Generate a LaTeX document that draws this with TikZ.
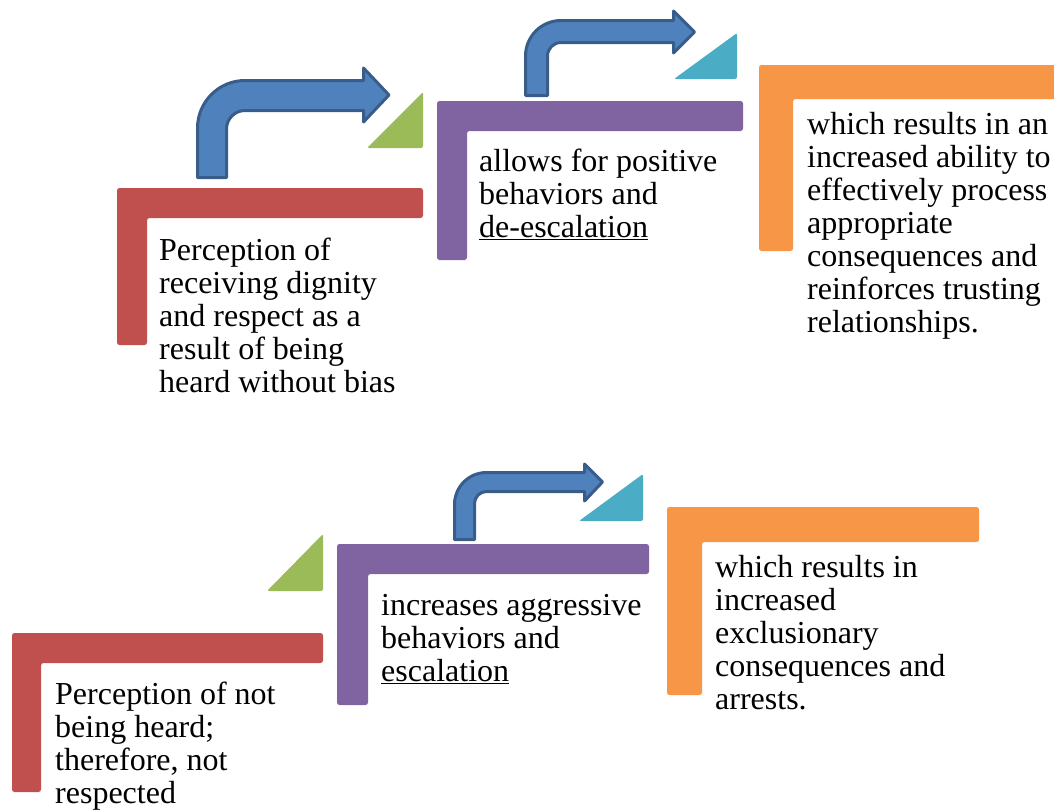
\documentclass[tikz,border=0pt]{standalone}
\usepackage{fontspec}
\setmainfont{Liberation Serif}
\definecolor{cRed}{HTML}{C0504D}
\definecolor{cPurple}{HTML}{8064A2}
\definecolor{cOrange}{HTML}{F79646}
\definecolor{cGreen}{HTML}{9BBB59}
\definecolor{cTeal}{HTML}{4BACC6}
\definecolor{cArrow}{HTML}{4F81BD}
\definecolor{cArrowLine}{HTML}{385D8A}
\begin{document}
\begin{tikzpicture}[x=1pt,y=-1pt,
  lshape/.style={rounded corners=2.5pt},
  tri/.style={rounded corners=2pt},
  bent/.style={fill=cArrow, draw=cArrowLine, line width=3pt, line join=round},
  txt/.style={anchor=base west, inner sep=0pt, font=\fontsize{32}{33}\selectfont}]
\useasboundingbox (0,0) rectangle (1054,809);
\clip (0,0) rectangle (1054,809);

% ---------- top row ----------
\fill[cRed, lshape] (117,188) -- (423,188) -- (423,218) -- (147,218) -- (147,345) -- (117,345) -- cycle;
\fill[cPurple, lshape] (437,101) -- (743,101) -- (743,131) -- (467,131) -- (467,260) -- (437,260) -- cycle;
\fill[cOrange, lshape] (759,65) -- (1070,65) -- (1070,99) -- (793,99) -- (793,251) -- (759,251) -- cycle;

\fill[cGreen, tri] (423,92) -- (423,148) -- (367,148) -- cycle;
\fill[cTeal, tri] (737,33) -- (737,79) -- (674,79) -- cycle;

% bent arrow 1
\draw[bent] (197.5,177.5) -- (197.5,128)
  .. controls (197.5,101.8) and (218.8,80.5) .. (245,80.5)
  -- (363.5,80.5) -- (363.5,68) -- (389,95) -- (363.5,122) -- (363.5,110.5)
  -- (245,110.5) .. controls (234.8,110.5) and (226.5,118.8) .. (226.5,129)
  -- (226.5,177.5) -- cycle;

% bent arrow 2
\draw[bent] (525.5,95.5) -- (525.5,56)
  .. controls (525.5,36.4) and (541.4,20.5) .. (561,20.5)
  -- (673.5,20.5) -- (673.5,11) -- (694.5,32) -- (673.5,53) -- (673.5,42.5)
  -- (561,42.5) .. controls (553.5,42.5) and (547.5,48.5) .. (547.5,56)
  -- (547.5,95.5) -- cycle;

\node[txt] (t1) at (159,260) {\parbox[t]{320pt}{\raggedright Perception of\\receiving dignity\\and respect as a\\result of being\\heard without bias}};
\node[txt] (t2) at (479,171) {\parbox[t]{320pt}{\raggedright allows for positive\\behaviors and\\\underline{de-escalation}}};
\node[txt] (t3) at (807,134) {\parbox[t]{320pt}{\raggedright which results in an\\increased ability to\\effectively process\\appropriate\\consequences and\\reinforces trusting\\relationships.}};

% ---------- bottom row ----------
\fill[cRed, lshape] (12,633) -- (323,633) -- (323,663) -- (41,663) -- (41,792) -- (12,792) -- cycle;
\fill[cPurple, lshape] (337,544) -- (649,544) -- (649,574) -- (368,574) -- (368,705) -- (337,705) -- cycle;
\fill[cOrange, lshape] (667,507) -- (979,507) -- (979,542) -- (702,542) -- (702,695) -- (667,695) -- cycle;

\fill[cGreen, tri] (323,534) -- (323,591) -- (267,591) -- cycle;
\fill[cTeal, tri] (643,474) -- (643,521) -- (579,521) -- cycle;

% bent arrow 3
\draw[bent] (454.5,539.5) -- (454.5,504.5)
  .. controls (454.5,486.8) and (468.8,472.5) .. (486.5,472.5)
  -- (584.5,472.5) -- (584.5,464) -- (602.5,482) -- (584.5,501) -- (584.5,491.5)
  -- (486.5,491.5) .. controls (479.9,491.5) and (474.5,496.9) .. (474.5,503.5)
  -- (474.5,539.5) -- cycle;

\node[txt] (t4) at (55,704) {\parbox[t]{320pt}{\raggedright Perception of not\\being heard;\\therefore, not\\respected}};
\node[txt] (t5) at (381,615) {\parbox[t]{320pt}{\raggedright increases aggressive\\behaviors and\\\underline{escalation}}};
\node[txt] (t6) at (715,577) {\parbox[t]{320pt}{\raggedright which results in\\increased\\exclusionary\\consequences and\\arrests.}};
\end{tikzpicture}
\end{document}
